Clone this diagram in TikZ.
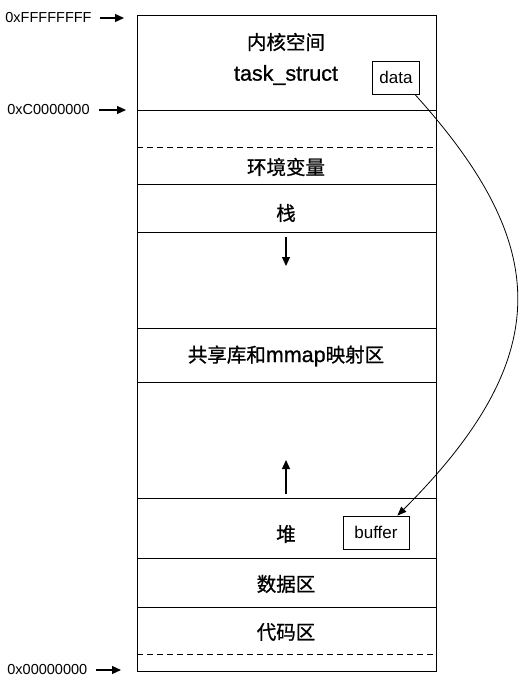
\documentclass[tikz,border=0pt]{standalone}
\usepackage{fontspec}
\setmainfont{Liberation Sans}
\newfontfamily\cjk[FakeBold=0.9]{Noto Sans CJK SC}
\newfontfamily\medsans[FakeBold=0.9]{Liberation Sans}
\usetikzlibrary{arrows.meta}
\begin{document}
\begin{tikzpicture}[>={Triangle[length=9pt,width=8pt]},x=1pt,y=-1pt,line width=0.8pt,
                zone/.style={font=\cjk\fontsize{19.5}{21}\selectfont, inner sep=0pt},
                latin/.style={font=\medsans\fontsize{21.5}{23}\selectfont, inner sep=0pt},
                addr/.style={font=\fontsize{14.5}{16}\selectfont, anchor=west, inner sep=0pt},
                tag/.style={draw, fill=white, font=\fontsize{17}{19}\selectfont, minimum height=33pt, inner xsep=0pt},
                arr/.style={->, line width=1.2pt}]
                \useasboundingbox (0,0) rectangle (519,689);
                % memory column
                \draw (137,15) rectangle (436,671);
                \foreach \y in {110,184,232,328,382,498,558,607}
                    \draw (137,\y) -- (436,\y);
                \foreach \y in {147,654}
                    \draw[dash pattern=on 6pt off 4pt] (137,\y) -- (436,\y);
                % regions
                \node[zone] (kernel) at (286,42) {内核空间};
                \node[latin] (task) at (286,75) {task\_struct};
                \node[zone] (env) at (286,167) {环境变量};
                \node[zone] (stack) at (286,213) {栈};
                \node[zone] (mmap) at (286,356) {共享库和{\medsans\fontsize{21.5}{23}\selectfont mmap}映射区};
                \node[zone] (heap) at (286,534) {堆};
                \node[zone] (data_seg) at (286,584) {数据区};
                \node[zone] (code) at (286,632) {代码区};
                \node[tag, minimum width=47pt] (data) at (396,77.5) {data};
                \node[tag, minimum width=66pt] (buffer) at (376,532.5) {buffer};
                % addresses
                \node[addr] (hiF) at (5,18) {0xFFFFFFFF};
                \node[addr] (hiC) at (7,110) {0xC0000000};
                \node[addr] (lo) at (7,670) {0x00000000};
                \coordinate (hiFtip) at (124,18);
                \coordinate (hiCtip) at (126,110);
                \coordinate (lotip) at (121,670);
                \draw[arr] ([xshift=8pt]hiF.east) -- (hiFtip);
                \draw[arr] ([xshift=9pt]hiC.east) -- (hiCtip);
                \draw[arr] ([xshift=8pt]lo.east) -- (lotip);
                % growth directions
                \coordinate (stackA) at (286,237);
                \coordinate (stackB) at (286,266);
                \coordinate (heapA) at (286,494);
                \coordinate (heapB) at (286,460);
                \draw[arr] (stackA) -- (stackB);
                \draw[arr] (heapA) -- (heapB);
                % data -> buffer
                \draw[->, >={Triangle[length=9pt,width=7pt]}] ([xshift=-5pt]data.south east) .. controls (549,243) and (559,354) .. ([xshift=-12pt]buffer.north east);
            \end{tikzpicture}
\end{document}
